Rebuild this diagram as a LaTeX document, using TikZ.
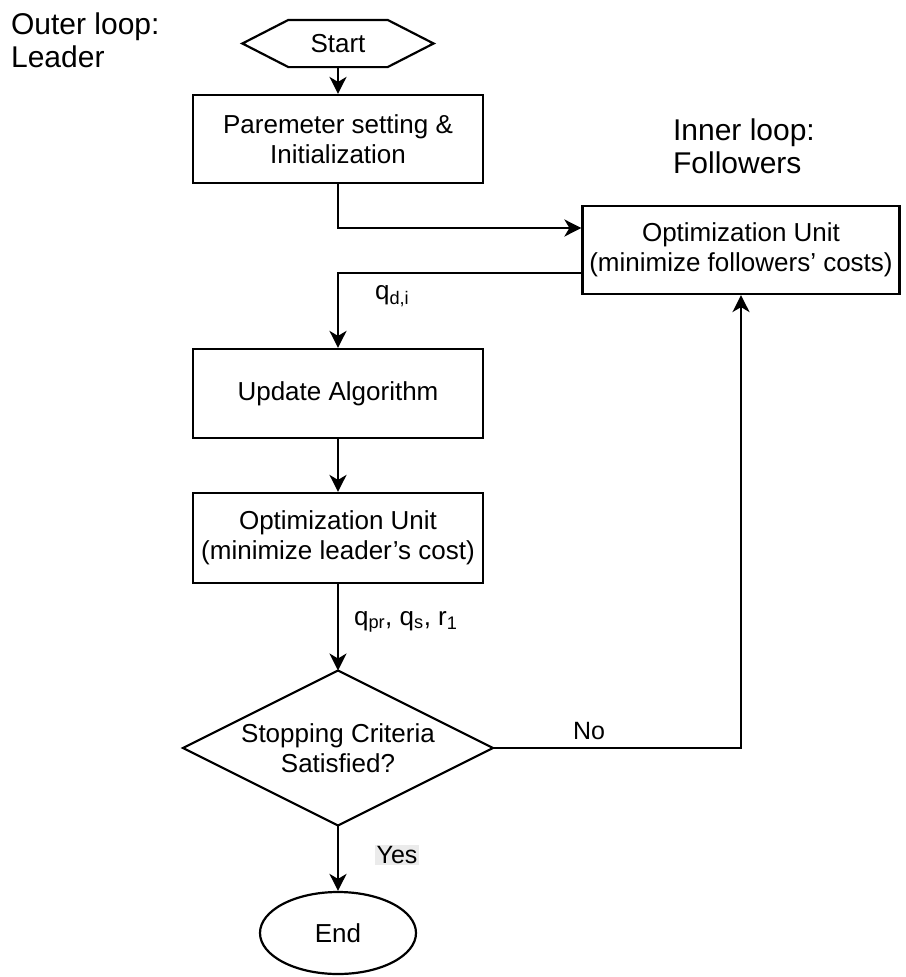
\documentclass[tikz,border=0pt]{standalone}
\usepackage{fontspec}
\setmainfont{Liberation Sans}
\usetikzlibrary{arrows.meta,calc,shapes.geometric}
\begin{document}
\begin{tikzpicture}[x=1pt,y=-1pt,
  line width=2.2pt,
  arr/.style={-{Stealth[length=17pt,width=17pt,inset=5pt]}},
  boxtext/.style={font=\fontsize{26}{30}\selectfont, align=center},
  box/.style={draw, boxtext, minimum width=290pt, minimum height=89pt, inner sep=0pt},
  lbl/.style={font=\fontsize{26}{30}\selectfont, inner sep=0pt},
  side/.style={font=\fontsize{30}{33}\selectfont, align=left, inner sep=0pt, anchor=north west}
]
\useasboundingbox (0,0) rectangle (905,977);

% titles
\node[side] (outer) at (10,12) {Outer loop:\\Leader};
\node[side] (inner) at (672,118) {Inner loop:\\Followers};

% start hexagon
\node[boxtext, minimum width=97pt, minimum height=45pt, inner sep=0pt] (start) at (338,43.5) {Start};
\draw (start.north west) -- (start.north east) -- ($(start.east)+(46,0)$) -- (start.south east)
      -- (start.south west) -- ($(start.west)+(-46,0)$) -- cycle;

% boxes
\node[box, minimum height=88pt] (param) at (338,139) {Paremeter setting \&\\Initialization};
\node[box, minimum width=317pt, minimum height=88pt] (follow) at (741,250) {Optimization Unit\\(minimize followers' costs)};
\node[box] (update) at (338,393.5) {Update Algorithm};
\node[box, minimum height=90pt] (leader) at (338,538) {Optimization Unit\\(minimize leader's cost)};

% decision diamond
\node[boxtext, inner sep=0pt] (dia) at (338,748) {Stopping Criteria\\Satisfied?};
\coordinate (dtop) at ($(dia)+(0,-77.5)$);
\coordinate (dbot) at ($(dia)+(0,77.5)$);
\coordinate (dleft) at ($(dia)+(-155,0)$);
\coordinate (dright) at ($(dia)+(155,0)$);
\draw (dtop) -- (dright) -- (dbot) -- (dleft) -- cycle;

% end
\node[draw, ellipse, boxtext, minimum width=156pt, minimum height=82pt, inner sep=0pt] (end) at (338,933) {End};

% connectors
\draw[arr] (start.south) -- (param.north);
\coordinate (fin) at ($(follow.west)+(0,-22)$);
\coordinate (fout) at ($(follow.west)+(0,23)$);
\draw[arr] (param.south) |- (fin);
\draw[arr] (fout) -| (update.north);
\draw[arr] (update.south) -- (leader.north);
\draw[arr] (leader.south) -- (dtop);
\draw[arr] (dright) -| (follow.south);
\draw[arr] (dbot) -- (end.north);

% labels
\node[lbl, anchor=west] (lq) at (374,296) {q\textsubscript{d,i}};
\node[lbl, anchor=west] (lq2) at (353,622) {q\textsubscript{pr}, q\textsubscript{s}, r\textsubscript{1}};
\node[font=\fontsize{25}{28}\selectfont, inner sep=0pt] (lno) at (589,731) {No};
\node[font=\fontsize{25}{28}\selectfont, fill=black!8, inner sep=1.5pt] (lyes) at (397,855) {Yes};
\end{tikzpicture}
\end{document}
